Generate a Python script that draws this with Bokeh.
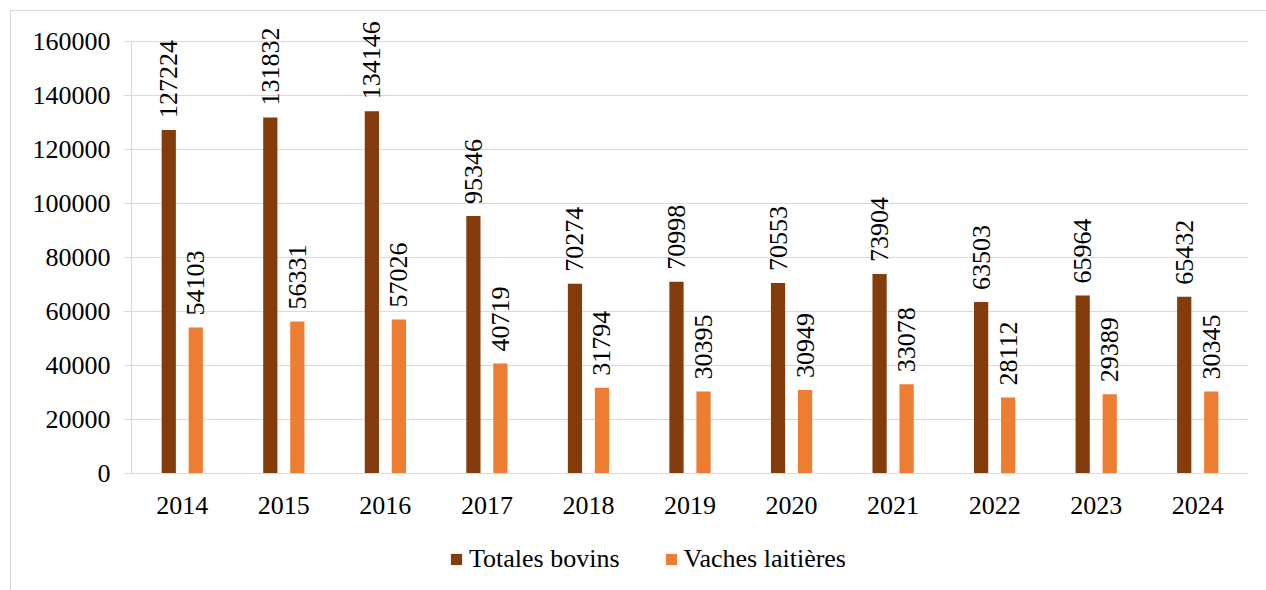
from bokeh.plotting import figure
from bokeh.models import ColumnDataSource, FactorRange, LabelSet, Legend, LegendItem, FixedTicker, NumeralTickFormatter
from bokeh.core.properties import value
from bokeh.transform import dodge
from bokeh.embed import file_html
from bokeh.resources import INLINE
import math

years = ["2014", "2015", "2016", "2017", "2018", "2019", "2020", "2021", "2022", "2023", "2024"]
totales_bovins = [127224, 131832, 134146, 95346, 70274, 70998, 70553, 73904, 63503, 65964, 65432]
vaches_laitieres = [54103, 56331, 57026, 40719, 31794, 30395, 30949, 33078, 28112, 29389, 30345]
y_ticks = [0, 20000, 40000, 60000, 80000, 100000, 120000, 140000, 160000]

FONT = "Liberation Serif"
FS = "26px"
DARK = "#843c0c"
ORANGE = "#ed7d31"
GRID = "#d9d9d9"

src = ColumnDataSource(dict(
    year=years,
    tot=totales_bovins,
    vac=vaches_laitieres,
    tot_lbl=[str(v) for v in totales_bovins],
    vac_lbl=[str(v) for v in vaches_laitieres],
))

p = figure(width=1256, height=580, x_range=FactorRange(*years), y_range=(-41852, 169630),
           output_backend="svg", toolbar_location=None,
           min_border_left=120, min_border_right=19, min_border_top=4, min_border_bottom=5)
p.margin = (10, 0, 0, 10)
p.styles = {"border-left": "1px solid #d9d9d9", "border-top": "1px solid #d9d9d9"}
p.outline_line_color = None
p.x_range.range_padding = 0
p.x_range.group_padding = 0

off = 0.133
w = 0.14
r1 = p.vbar(x=dodge("year", -off, range=p.x_range), top="tot", width=w, source=src,
            fill_color=DARK, line_color=None)
r2 = p.vbar(x=dodge("year", off, range=p.x_range), top="vac", width=w, source=src,
            fill_color=ORANGE, line_color=None)

for col, lbl, o in [("tot", "tot_lbl", -off), ("vac", "vac_lbl", off)]:
    ls = LabelSet(x=dodge("year", o, range=p.x_range), y=col, text=lbl, source=src,
                  angle=math.pi / 2, y_offset=12, text_align="left", text_baseline="middle",
                  text_font=value(FONT), text_font_size=value(FS), text_color="#000000")
    p.add_layout(ls)

p.xgrid.grid_line_color = None
p.ygrid.grid_line_color = GRID
p.ygrid.grid_line_width = 1

p.yaxis.ticker = FixedTicker(ticks=y_ticks)
p.yaxis.formatter = NumeralTickFormatter(format="0")
p.yaxis.bounds = (0, 160000)
p.yaxis.axis_line_color = GRID
p.yaxis.major_tick_line_color = GRID
p.yaxis.major_tick_out = 7
p.yaxis.major_tick_in = 0
p.yaxis.minor_tick_line_color = None
p.yaxis.major_label_standoff = 14
p.xaxis.fixed_location = 0
p.xaxis.axis_line_color = GRID
p.xaxis.major_tick_line_color = None
p.xaxis.minor_tick_line_color = None
p.xaxis.major_label_standoff = 18
for ax in (p.xaxis, p.yaxis):
    ax.major_label_text_font = FONT
    ax.major_label_text_font_size = FS
    ax.major_label_text_color = "#000000"

legend = Legend(items=[LegendItem(label="Totales bovins", renderers=[r1]),
                       LegendItem(label="Vaches laitières", renderers=[r2])],
                orientation="horizontal", location=(318, 12),
                glyph_width=14, glyph_height=14, label_standoff=6, spacing=44,
                padding=0, margin=0, border_line_color=None, background_fill_alpha=0,
                label_text_font=FONT, label_text_font_size=FS, label_text_color="#000000")
p.add_layout(legend, "center")

open("out.html", "w").write(file_html(p, INLINE))
